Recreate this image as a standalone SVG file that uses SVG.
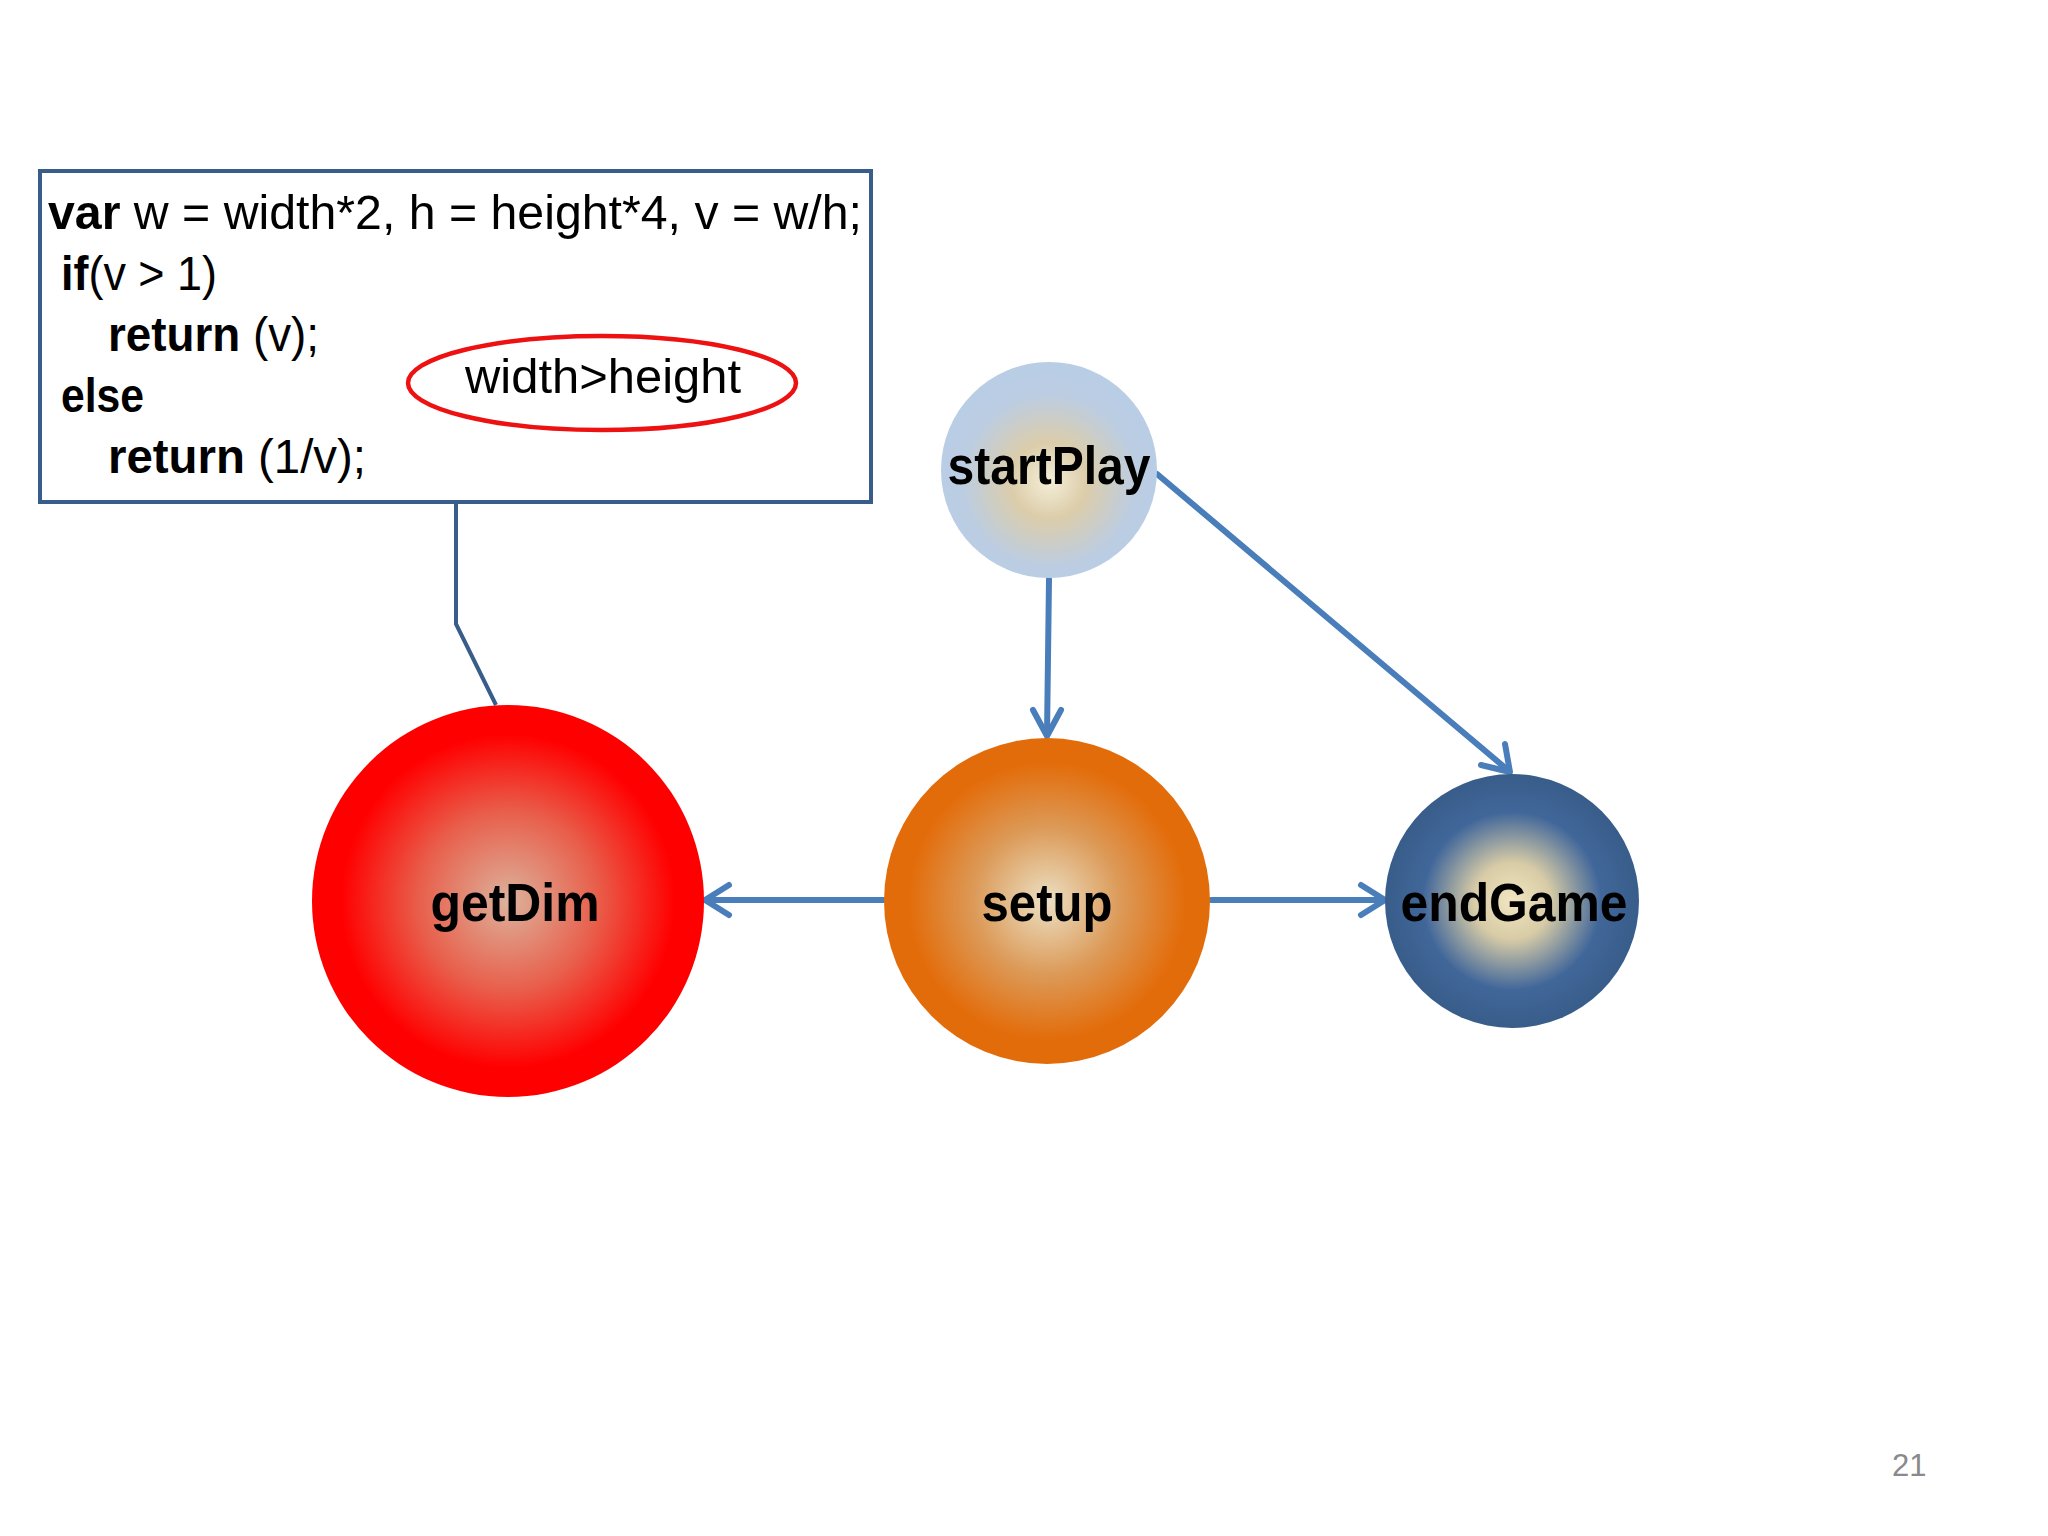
<svg xmlns="http://www.w3.org/2000/svg" width="2048" height="1536" viewBox="0 0 2048 1536">
<style>
.code{font-family:"Liberation Sans",Arial,sans-serif;font-size:48px;fill:#000}
.b{font-weight:bold}
.lbl{font-family:"Liberation Sans",Arial,sans-serif;font-size:54px;font-weight:bold;fill:#000;text-anchor:middle}
.conn{stroke:#4a7ebb;stroke-width:6;fill:none;stroke-linecap:round}
.head{stroke:#4a7ebb;stroke-width:6;fill:none;stroke-linecap:round;stroke-linejoin:round}
</style>
<defs>
<radialGradient id="gRed" cx="0.5" cy="0.5" r="0.5">
<stop offset="0" stop-color="#dcb29c"/>
<stop offset="0.45" stop-color="#e8604c"/>
<stop offset="0.85" stop-color="#ff0000"/>
<stop offset="1" stop-color="#ff0000"/>
</radialGradient>
<radialGradient id="gOrange" cx="0.5" cy="0.5" r="0.5">
<stop offset="0" stop-color="#ebe0c4"/>
<stop offset="0.45" stop-color="#dc9a58"/>
<stop offset="0.85" stop-color="#e36c0a"/>
<stop offset="1" stop-color="#e36c0a"/>
</radialGradient>
<radialGradient id="gBlue" cx="0.5" cy="0.5" r="0.5">
<stop offset="0" stop-color="#f2e6c2"/>
<stop offset="0.3" stop-color="#d8cca6"/>
<stop offset="0.7" stop-color="#41679a"/>
<stop offset="1" stop-color="#385d8a"/>
</radialGradient>
<radialGradient id="gLight" cx="0.5" cy="0.55" r="0.5">
<stop offset="0" stop-color="#f4eed8"/>
<stop offset="0.35" stop-color="#dccdaa"/>
<stop offset="0.8" stop-color="#bccde2"/>
<stop offset="1" stop-color="#b9cde5"/>
</radialGradient>
</defs>
<rect width="2048" height="1536" fill="#ffffff"/>

<g id="codebox">
<rect x="40" y="171" width="831" height="331" fill="#ffffff" stroke="#385d8a" stroke-width="4"/>
<text class="code" x="48" y="229" textLength="814" lengthAdjust="spacingAndGlyphs"><tspan class="b">var</tspan> w = width*2, h = height*4, v = w/h;</text>
<text class="code" x="61" y="290" textLength="156" lengthAdjust="spacingAndGlyphs"><tspan class="b">if</tspan>(v &gt; 1)</text>
<text class="code" x="108" y="351" textLength="211" lengthAdjust="spacingAndGlyphs"><tspan class="b">return</tspan> (v);</text>
<text class="code" x="61" y="412" textLength="83" lengthAdjust="spacingAndGlyphs"><tspan class="b">else</tspan></text>
<text class="code" x="108" y="473" textLength="258" lengthAdjust="spacingAndGlyphs"><tspan class="b">return</tspan> (1/v);</text>
</g>

<g id="note">
<ellipse cx="602" cy="383" rx="194" ry="47" fill="none" stroke="#ee1111" stroke-width="4.5"/>
<text class="code" x="465" y="393" textLength="276" lengthAdjust="spacingAndGlyphs">width&gt;height</text>
</g>

<g id="connectors">
<polyline points="456,502 456,624 496,705" fill="none" stroke="#385d8a" stroke-width="4"/>
<line class="conn" x1="1049" y1="579" x2="1047" y2="735"/>
<polyline class="head" points="1033,710 1047,736 1061,710"/>
<line class="conn" x1="1157" y1="474" x2="1509" y2="771"/>
<polyline class="head" points="1481,765 1510,772 1505,744"/>
<line class="conn" x1="884" y1="900" x2="706" y2="900"/>
<polyline class="head" points="729,885 705,900 729,915"/>
<line class="conn" x1="1211" y1="900" x2="1384" y2="900"/>
<polyline class="head" points="1361,885 1385,900 1361,915"/>
</g>

<g id="startPlay">
<circle cx="1049" cy="470" r="108" fill="url(#gLight)"/>
<text class="lbl" x="1049" y="484" textLength="203" lengthAdjust="spacingAndGlyphs">startPlay</text>
</g>

<g id="getDim">
<circle cx="508" cy="901" r="196" fill="url(#gRed)"/>
<text class="lbl" x="515" y="921" textLength="169" lengthAdjust="spacingAndGlyphs">getDim</text>
</g>

<g id="setup">
<circle cx="1047" cy="901" r="163" fill="url(#gOrange)"/>
<text class="lbl" x="1047" y="921" textLength="131" lengthAdjust="spacingAndGlyphs">setup</text>
</g>

<g id="endGame">
<circle cx="1512" cy="901" r="127" fill="url(#gBlue)"/>
<text class="lbl" x="1514" y="921" textLength="227" lengthAdjust="spacingAndGlyphs">endGame</text>
</g>

<text x="1892" y="1476" font-family="Liberation Sans,Arial,sans-serif" font-size="31" fill="#8a8a8a">21</text>
</svg>
